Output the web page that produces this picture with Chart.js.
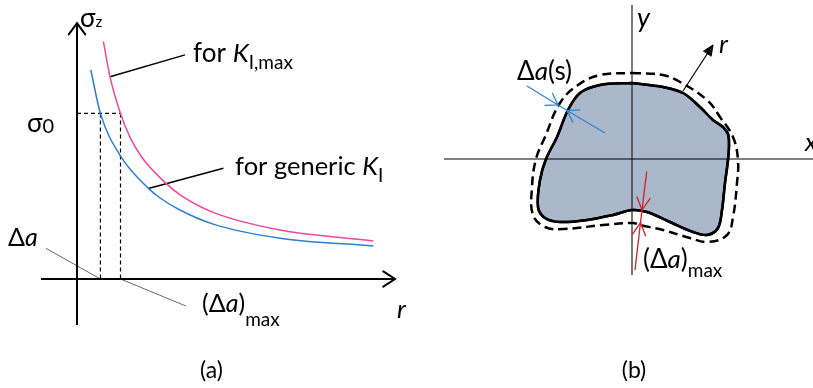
<!DOCTYPE html>
<html>
<head>
<meta charset="utf-8">
<script src="https://cdn.jsdelivr.net/npm/chart.js@4/dist/chart.umd.min.js"></script>
<style>
  html, body { margin: 0; padding: 0; background: #fff; }
  #wrap { position: relative; width: 813px; height: 388px; overflow: hidden; }
  #panelA { position: absolute; left: 0; top: 0; }
  #panelB { position: absolute; left: 420px; top: 0; }
</style>
</head>
<body>
<div id="wrap">
  <canvas id="panelA" width="420" height="388"></canvas>
  <canvas id="panelB" width="393" height="388"></canvas>
</div>
<script>
// ---- (a) opening stress sigma_z ahead of the front vs distance r ----
const rKmax      = [0.88, 1.10, 1.45, 1.77, 2.16, 2.93, 3.50, 4.54, 6.77, 9.88];
const sigmaKmax  = [7.91, 6.74, 5.52, 4.72, 4.06, 3.22, 2.76, 2.22, 1.63, 1.27];
const rKgen      = [0.46, 0.78, 1.43, 2.38, 2.77, 3.43, 4.54, 6.77, 9.88];
const sigmaKgen  = [6.97, 5.52, 4.13, 3.02, 2.70, 2.30, 1.83, 1.36, 1.10];
const sigma0     = 5.52;   // threshold stress
const deltaA     = 0.78;   // advance for the generic K_I
const deltaAMax  = 1.45;   // advance for K_I,max
const rAxisEnds     = [-1.2, 10.6];
const sigmaAxisEnds = [-1.53, 8.53];

// ---- (b) crack front in the x-y plane and its advanced position ----
const frontX = [0, 3.1, 5.1, 6.8, 8.1, 9.1, 9.6, 9.7, 9.6, 9.3, 9.0, 8.6, 7.5, 6.1, 3.8, 1.5, 0, -1.9, -4.5, -7.2, -8.7, -9.4, -9.2, -8.6, -7.5, -6.4, -5.2, -3.2, 0];
const frontY = [7.6, 7.2, 6.6, 5.2, 3.9, 3.2, 2.5, 1.4, -0.1, -2.4, -5.1, -6.9, -7.6, -7.3, -6.3, -5.3, -5.1, -5.6, -6.1, -6.3, -5.9, -4.8, -2.1, 0, 2.2, 4.9, 6.6, 7.4, 7.6];
const grownX = [0, 3.1, 4.8, 7.5, 8.8, 10.1, 10.6, 10.5, 10.1, 9.5, 7.6, 5.8, 3.1, 0.8, 0.1, -2.9, -6.9, -8.7, -9.9, -10.0, -9.6, -8.7, -7.2, -5.4, -3.2, 0];
const grownY = [8.6, 8.4, 7.7, 5.9, 4.2, 2.2, -0.1, -2.4, -5.8, -7.6, -8.3, -7.9, -7.1, -6.6, -6.4, -6.6, -7.0, -6.8, -5.6, -2.8, 0, 2.2, 5.6, 7.4, 8.4, 8.6];
const localAdvX = [-10.5, -7.4, -6.5, -2.7];   // Δa(s) gauge line
const localAdvY = [7.3, 5.4, 4.85, 2.6];
const maxAdvX   = [1.47, 1.0, 0.85, 0.3];      // (Δa)max gauge line
const maxAdvY   = [-1.27, -5.1, -6.37, -11.1];
const xAxisEnds = [-18.8, 18.2];
const yAxisEnds = [15.4, -11.6];

const FONT = 'Lato, "Open Sans", sans-serif';
const pts = (xs, ys) => xs.map((x, i) => ({ x, y: ys[i] }));

// arrowheads at chosen points of a dataset (tip = point i, coming from point `from`)
const arrowPlugin = {
  id: 'arrows',
  afterDatasetsDraw(chart) {
    const ctx = chart.ctx;
    chart.data.datasets.forEach((ds, di) => {
      if (!ds.arrowHeads) return;
      const el = chart.getDatasetMeta(di).data;
      ds.arrowHeads.forEach(a => {
        const tip = el[a.i], src = el[a.from];
        const ang = Math.atan2(tip.y - src.y, tip.x - src.x);
        const L = a.len, h = a.half * Math.PI / 180;
        const p1 = [tip.x - L * Math.cos(ang - h), tip.y - L * Math.sin(ang - h)];
        const p2 = [tip.x - L * Math.cos(ang + h), tip.y - L * Math.sin(ang + h)];
        ctx.save();
        ctx.strokeStyle = ds.borderColor; ctx.fillStyle = ds.borderColor;
        ctx.lineWidth = a.width || ds.borderWidth;
        ctx.lineCap = 'round'; ctx.lineJoin = 'miter';
        ctx.beginPath();
        ctx.moveTo(p1[0], p1[1]); ctx.lineTo(tip.x, tip.y); ctx.lineTo(p2[0], p2[1]);
        if (a.filled) { ctx.closePath(); ctx.fill(); }
        ctx.stroke();
        ctx.restore();
      });
    });
  }
};

// labels made of runs with their own font and baseline shift
const labelPlugin = {
  id: 'labels',
  afterDatasetsDraw(chart, args, opts) {
    const ctx = chart.ctx, xs = chart.scales.x, ys = chart.scales.y;
    (opts.items || []).forEach(it => {
      const x = xs.getPixelForValue(it.at[0]);
      const y = ys.getPixelForValue(it.at[1]);
      ctx.save();
      ctx.textBaseline = 'alphabetic';
      let w = 0;
      it.runs.forEach(r => { ctx.font = r.f; w += ctx.measureText(r.t).width + (r.dx || 0); });
      let cx = it.center ? x - w / 2 : x;
      it.runs.forEach(r => {
        ctx.font = r.f; ctx.fillStyle = r.c || '#000';
        cx += (r.dx || 0);
        ctx.fillText(r.t, cx, y + (r.dy || 0));
        cx += ctx.measureText(r.t).width;
      });
      ctx.restore();
    });
  }
};

const f = (size, style) => `${style || 'normal'} ${size}px ${FONT}`;
const base = (xr, yr, items) => ({
  responsive: false, animation: false, devicePixelRatio: 1,
  layout: { padding: 0 },
  events: [],
  elements: { point: { radius: 0, hoverRadius: 0 } },
  plugins: { legend: { display: false }, tooltip: { enabled: false }, labels: { items } },
  scales: {
    x: { type: 'linear', display: false, min: xr[0], max: xr[1] },
    y: { type: 'linear', display: false, min: yr[0], max: yr[1] }
  }
});
const seg = (data, color, width, extra) => Object.assign({
  data, showLine: true, borderColor: color, borderWidth: width, pointRadius: 0, fill: false
}, extra || {});

// ---------- panel (a) ----------
new Chart(document.getElementById('panelA'), {
  type: 'scatter',
  data: {
    datasets: [
      seg(pts(rKmax, sigmaKmax), '#f2479b', 1.5, { cubicInterpolationMode: 'monotone', order: 2 }),
      seg(pts(rKgen, sigmaKgen), '#2a7fd2', 1.5, { cubicInterpolationMode: 'monotone', order: 2 }),
      seg([{ x: 0, y: sigma0 }, { x: deltaAMax, y: sigma0 }], '#000', 1.2, { borderDash: [4, 3], order: 4 }),
      seg([{ x: deltaA, y: sigma0 }, { x: deltaA, y: 0 }], '#000', 1.2, { borderDash: [4, 3], order: 4 }),
      seg([{ x: deltaAMax, y: sigma0 }, { x: deltaAMax, y: 0 }], '#000', 1.2, { borderDash: [4, 3], order: 4 }),
      // leaders
      seg([{ x: rKmax[1], y: sigmaKmax[1] }, { x: 3.6, y: 7.47 }], '#000', 1.5, { order: 3 }),
      seg([{ x: rKgen[3], y: sigmaKgen[3] }, { x: 4.88, y: 3.69 }], '#000', 1.5, { order: 3 }),
      seg([{ x: -1.03, y: 1.02 }, { x: deltaA, y: 0 }], '#666', 1, { order: 3 }),
      seg([{ x: deltaAMax, y: 0 }, { x: 3.63, y: -0.9 }], '#666', 1, { order: 3 }),
      // axes
      seg([{ x: rAxisEnds[0], y: 0 }, { x: rAxisEnds[1], y: 0 }], '#000', 2.2,
          { order: 1, arrowHeads: [{ i: 1, from: 0, len: 14, half: 33, width: 2 }] }),
      seg([{ x: 0, y: sigmaAxisEnds[0] }, { x: 0, y: sigmaAxisEnds[1] }], '#000', 2,
          { order: 1, arrowHeads: [{ i: 1, from: 0, len: 14, half: 36, width: 2 }] })
    ]
  },
  options: base([-2.567, 11.433], [-3.633, 9.3], [
    { at: [0.1, 8.4], runs: [{ t: 'σ', f: f(26) }, { t: 'z', f: f(15), dy: 0 }] },
    { at: [-1.67, sigma0 - 0.62], runs: [{ t: 'σ', f: f(26) }, { t: '0', f: f(20), dy: 1, dx: 0 }] },
    { at: [3.87, 7.23], runs: [{ t: 'for ', f: f(26) }, { t: 'K', f: f(26, 'italic') }, { t: 'I,max', f: f(19), dy: 7 }] },
    { at: [5.27, 3.47], runs: [{ t: 'for generic ', f: f(25.5) }, { t: 'K', f: f(25.5, 'italic') }, { t: 'I', f: f(19), dy: 7 }] },
    { at: [-2.3, 1.1], runs: [{ t: 'Δ', f: f(25) }, { t: 'a', f: f(25, 'italic') }] },
    { at: [4.17, -1.1], runs: [{ t: '(Δ', f: f(25) }, { t: 'a', f: f(25, 'italic') }, { t: ')', f: f(25) }, { t: 'max', f: f(19), dy: 14 }] },
    { at: [10.67, -1.3], runs: [{ t: 'r', f: f(26, 'italic') }] },
    { at: [4.48, -3.3], center: true, runs: [{ t: '(a)', f: f(23) }] }
  ]),
  plugins: [arrowPlugin, labelPlugin]
});

// ---------- panel (b) ----------
new Chart(document.getElementById('panelB'), {
  type: 'scatter',
  data: {
    datasets: [
      seg(pts(frontX, frontY), '#000', 2.5, { tension: 0.35, fill: 'shape', backgroundColor: '#abb7ca', order: 6 }),
      seg([{ x: xAxisEnds[0], y: 0 }, { x: xAxisEnds[1], y: 0 }], '#000', 1.2, { order: 5 }),
      seg([{ x: 0, y: yAxisEnds[0] }, { x: 0, y: yAxisEnds[1] }], '#222', 1.2, { order: 5 }),
      seg(pts(frontX, frontY), '#000', 2.5, { tension: 0.35, order: 4 }),
      seg(pts(grownX, grownY), '#000', 2.5, { tension: 0.4, borderDash: [9, 5], order: 4 }),
      seg([{ x: frontX[2], y: frontY[2] + 0.2 }, { x: 8.1, y: 11.4 }], '#000', 1.2,
          { order: 2, arrowHeads: [{ i: 1, from: 0, len: 11, half: 24, filled: true, width: 1 }] }),
      seg(pts(localAdvX, localAdvY), '#2a86d6', 1.3,
          { order: 1, arrowHeads: [{ i: 1, from: 0, len: 13, half: 33 }, { i: 2, from: 3, len: 13, half: 33 }] }),
      seg(pts(maxAdvX, maxAdvY), '#d41e2c', 1.3,
          { order: 1, arrowHeads: [{ i: 1, from: 0, len: 14, half: 28 }, { i: 2, from: 3, len: 14, half: 28 }] })
    ]
  },
  options: base([-21.2, 18.1], [-22.9, 15.9], [
    { at: [0.5, 13.2], runs: [{ t: 'y', f: f(27, 'italic') }] },
    { at: [8.7, 10.6], runs: [{ t: 'r', f: f(26, 'italic') }] },
    { at: [17.3, 0.8], runs: [{ t: 'x', f: f(26, 'italic') }] },
    { at: [-11.5, 7.9], runs: [{ t: 'Δ', f: f(26) }, { t: 'a', f: f(26, 'italic') }, { t: '(s)', f: f(26) }] },
    { at: [1.1, -10.9], runs: [{ t: '(Δ', f: f(26) }, { t: 'a', f: f(26, 'italic') }, { t: ')', f: f(26) }, { t: 'max', f: f(19), dy: 9 }] },
    { at: [0.2, -21.9], center: true, runs: [{ t: '(b)', f: f(23) }] }
  ]),
  plugins: [arrowPlugin, labelPlugin]
});
</script>
</body>
</html>
